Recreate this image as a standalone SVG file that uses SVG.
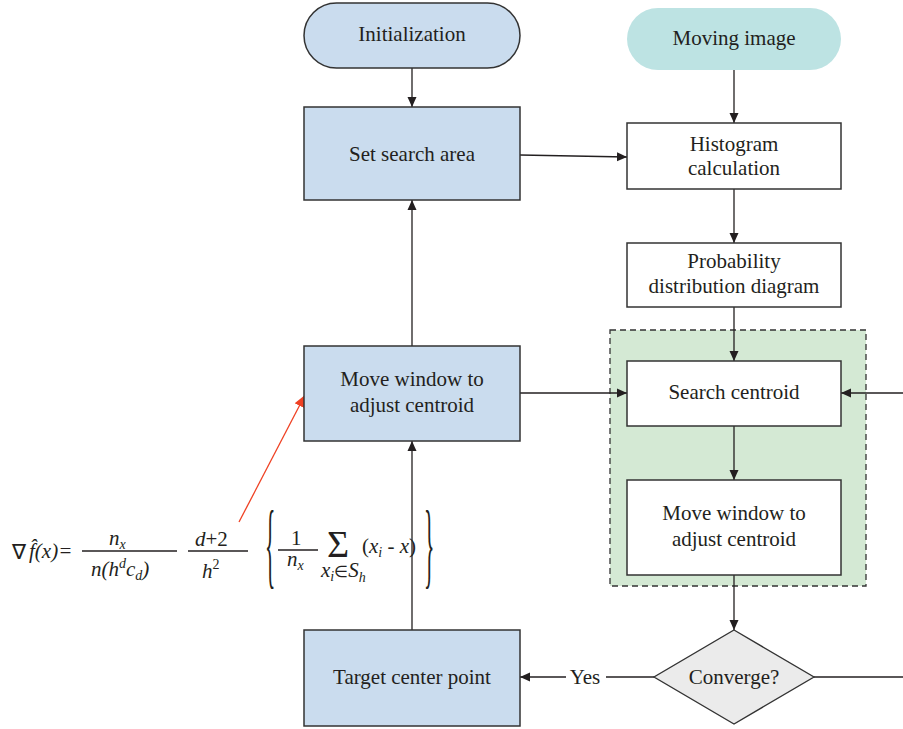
<svg xmlns="http://www.w3.org/2000/svg" width="903" height="729" viewBox="0 0 903 729" font-family="'Liberation Serif', 'Times New Roman', serif">
<defs>
<marker id="ah" viewBox="0 0 10 10" refX="10" refY="5" markerWidth="10" markerHeight="10" markerUnits="userSpaceOnUse" orient="auto"><path d="M0,0.5 L10,5 L0,9.5 Z" fill="#231f20"/></marker>
<marker id="ahr" viewBox="0 0 10 10" refX="10" refY="5" markerWidth="12" markerHeight="12" markerUnits="userSpaceOnUse" orient="auto"><path d="M0,0.5 L10,5 L0,9.5 Z" fill="#ef4123"/></marker>
</defs>
<style>
.lbl{font-family:"Liberation Serif","Times New Roman",serif;font-size:21px;fill:#231f20;text-anchor:middle}
.blue{fill:#cadcee;stroke:#333;stroke-width:1.5}
.white{fill:#fff;stroke:#333;stroke-width:1.5}
.ln{stroke:#231f20;stroke-width:1.3;fill:none}
.m{font-family:"Liberation Serif","Times New Roman",serif;font-size:21px;fill:#231f20;font-style:italic}
.mu{font-family:"Liberation Serif","Times New Roman",serif;font-size:21px;fill:#231f20}
.big{font-size:38px}
.br{font-size:24px}
.sub{font-size:14px}
</style>
<rect x="0" y="0" width="903" height="729" fill="#fff"/>
<g id="region">
<rect x="610" y="330" width="256" height="256" fill="#d4e9d4" stroke="#333" stroke-width="1.3" stroke-dasharray="6,4"/>
</g>
<g id="connectors">
<line class="ln" x1="412" y1="68" x2="412" y2="107" marker-end="url(#ah)"/>
<line class="ln" x1="520" y1="155" x2="627" y2="157" marker-end="url(#ah)"/>
<line class="ln" x1="734" y1="70" x2="734" y2="123" marker-end="url(#ah)"/>
<line class="ln" x1="734" y1="189" x2="734" y2="243" marker-end="url(#ah)"/>
<line class="ln" x1="734" y1="307" x2="734" y2="361" marker-end="url(#ah)"/>
<line class="ln" x1="520" y1="393" x2="627" y2="393" marker-end="url(#ah)"/>
<line class="ln" x1="903" y1="393" x2="841" y2="393" marker-end="url(#ah)"/>
<line class="ln" x1="734" y1="426" x2="734" y2="480" marker-end="url(#ah)"/>
<line class="ln" x1="734" y1="575" x2="734" y2="630" marker-end="url(#ah)"/>
<line class="ln" x1="654" y1="677" x2="606" y2="677"/>
<line class="ln" x1="566" y1="677" x2="520" y2="677" marker-end="url(#ah)"/>
<line class="ln" x1="814" y1="677" x2="903" y2="677"/>
<line class="ln" x1="412" y1="630" x2="412" y2="441" marker-end="url(#ah)"/>
<line class="ln" x1="412" y1="346" x2="412" y2="200" marker-end="url(#ah)"/>
<line x1="239" y1="522" x2="305" y2="395" stroke="#ef4123" stroke-width="1.3" marker-end="url(#ahr)"/>
<text class="lbl" x="585" y="684">Yes</text>
</g>
<g id="init"><rect class="blue" x="304" y="3" width="216" height="65" rx="32.5"/><text class="lbl" x="412" y="41">Initialization</text></g>
<g id="setsearch"><rect class="blue" x="304" y="107" width="216" height="93"/><text class="lbl" x="412" y="161">Set search area</text></g>
<g id="moving"><rect x="627" y="8" width="214" height="62" rx="31" fill="#bde3e3"/><text class="lbl" x="734" y="45">Moving image</text></g>
<g id="histogram"><rect class="white" x="627" y="123" width="214" height="66"/><text class="lbl" x="734" y="151">Histogram</text><text class="lbl" x="734" y="175">calculation</text></g>
<g id="probability"><rect class="white" x="627" y="243" width="214" height="64"/><text class="lbl" x="734" y="268">Probability</text><text class="lbl" x="734" y="293">distribution diagram</text></g>
<g id="searchcentroid"><rect class="white" x="627" y="361" width="214" height="65"/><text class="lbl" x="734" y="399">Search centroid</text></g>
<g id="movewin2"><rect class="white" x="627" y="480" width="214" height="95"/><text class="lbl" x="734" y="520">Move window to</text><text class="lbl" x="734" y="546">adjust centroid</text></g>
<g id="converge"><polygon points="734,630 814,677 734,724 654,677" fill="#ebebeb" stroke="#333" stroke-width="1.3"/><text class="lbl" x="734" y="684">Converge?</text></g>
<g id="target"><rect class="blue" x="304" y="630" width="216" height="96"/><text class="lbl" x="412" y="684">Target center point</text></g>
<g id="movewin1"><rect class="blue" x="304" y="346" width="216" height="95"/><text class="lbl" x="412" y="386">Move window to</text><text class="lbl" x="412" y="412">adjust centroid</text></g>
<g id="formula">
<text class="mu" x="12" y="559">∇</text>
<text class="m" x="29" y="558">f̂(x)=</text>
<text class="m" x="109" y="545">n<tspan class="sub" dy="4">x</tspan></text>
<line class="ln" x1="82" y1="551" x2="177" y2="551"/>
<text class="m" x="91" y="576">n(h<tspan class="sub" dy="-8">d</tspan><tspan dy="8">c</tspan><tspan class="sub" dy="4">d</tspan><tspan dy="-4">)</tspan></text>
<text class="m" x="195" y="546">d<tspan font-style="normal">+2</tspan></text>
<line class="ln" x1="188" y1="551" x2="248" y2="551"/>
<text class="m" x="202" y="578">h<tspan class="sub" font-style="normal" dy="-9">2</tspan></text>
<text class="mu br" x="0" y="0" transform="translate(265,576) scale(0.9,3.93)">{</text>
<text class="mu" x="291" y="545">1</text>
<line class="ln" x1="278" y1="550" x2="318" y2="550"/>
<text class="m" x="287" y="566">n<tspan class="sub" dy="4">x</tspan></text>
<text class="mu big" x="327" y="557">Σ</text>
<text class="m" x="321" y="577">x<tspan class="sub" dy="4">i</tspan><tspan font-style="normal" font-size="16" dy="-4">∈</tspan>S<tspan class="sub" dy="5">h</tspan></text>
<text class="m" x="362" y="553"><tspan font-style="normal">(</tspan>x<tspan class="sub" dy="4">i</tspan><tspan font-style="normal" dy="-4"> - </tspan>x<tspan font-style="normal">)</tspan></text>
<text class="mu br" x="0" y="0" transform="translate(424,576) scale(0.9,3.93)">}</text>
</g>
</svg>
